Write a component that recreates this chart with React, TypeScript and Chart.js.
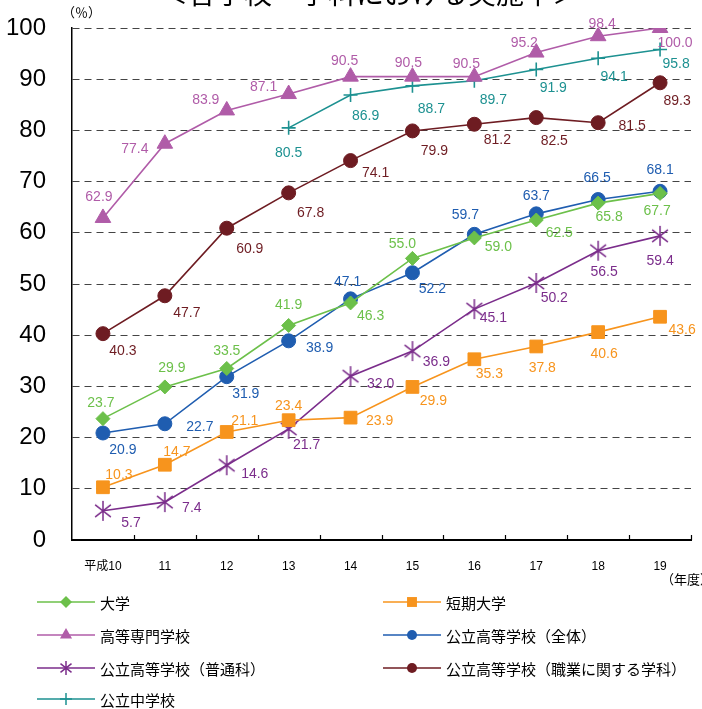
import React, { useEffect, useRef } from 'react';
import { Chart, registerables } from 'chart.js';

Chart.register(...registerables);

// ---------------- data ----------------
const YEARS = ['平成10', '11', '12', '13', '14', '15', '16', '17', '18', '19'];
const Y_MIN = 0;
const Y_MAX = 100;
const Y_STEP = 10;

const DAIGAKU = [23.7, 29.9, 33.5, 41.9, 46.3, 55.0, 59.0, 62.5, 65.8, 67.7];
const TANKI = [10.3, 14.7, 21.1, 23.4, 23.9, 29.9, 35.3, 37.8, 40.6, 43.6];
const KOSEN = [62.9, 77.4, 83.9, 87.1, 90.5, 90.5, 90.5, 95.2, 98.4, 100.0];
const KOKO_ALL = [20.9, 22.7, 31.9, 38.9, 47.1, 52.2, 59.7, 63.7, 66.5, 68.1];
const KOKO_FUTSU = [5.7, 7.4, 14.6, 21.7, 32.0, 36.9, 45.1, 50.2, 56.5, 59.4];
const KOKO_SHOKU = [40.3, 47.7, 60.9, 67.8, 74.1, 79.9, 81.2, 82.5, 81.5, 89.3];
const CHUGAKU = [null, null, null, 80.5, 86.9, 88.7, 89.7, 91.9, 94.1, 95.8];

const TITLE = '＜各学校・学科における実施率＞';
const UNIT_Y = '（％）';
const UNIT_X = '（年度）';

// label offsets (dx, dy) relative to each point
const OFF_DAIGAKU = [[-2, -16], [7, -19], [0, -17], [0, -20], [20, 13], [-10, -14], [24, 9], [23, 13], [11, 14], [-3, 18]];
const OFF_TANKI = [[16, -12], [12, -13], [18, -11], [0, -14], [29, 4], [21, 14], [15, 15], [6, 22], [6, 22], [22, 13]];
const OFF_KOSEN = [[-4, -21], [-30, 5], [-21, -10], [-25, -7], [-6, -15], [-4, -13], [-8, -12], [-12, -9], [4, -12], [15, 15]];
const OFF_KOKO_ALL = [[20, 17], [35, 3], [19, 17], [31, 7], [-3, -17], [20, 16], [-9, -19], [0, -18], [-1, -21], [0, -21]];
const OFF_KOKO_FUTSU = [[28, 12], [27, 6], [28, 9], [18, 16], [30, 8], [24, 11], [19, 9], [18, 15], [6, 21], [0, 25]];
const OFF_KOKO_SHOKU = [[20, 17], [22, 17], [23, 21], [22, 20], [25, 13], [22, 20], [23, 16], [18, 24], [34, 3], [17, 18]];
const OFF_CHUGAKU = [null, null, null, [0, 25], [15, 21], [19, 23], [19, 19], [17, 19], [16, 19], [16, 15]];

// ---------------- styles ----------------
const C_GREEN = '#6cc04a';
const C_ORANGE = '#f7941d';
const C_PINK = '#b05ca8';
const C_BLUE = '#1f5db0';
const C_PURPLE = '#7b2d8b';
const C_DARKRED = '#6e1c22';
const C_TEAL = '#1d9191';

function makeAsterisk(size: number, color: string, lw: number) {
  const c = document.createElement('canvas');
  c.width = size;
  c.height = size;
  const g = c.getContext('2d')!;
  const m = size / 2;
  const r = size / 2 - 1;
  g.strokeStyle = color;
  g.lineWidth = lw;
  g.beginPath();
  g.moveTo(m, m - r);
  g.lineTo(m, m + r);
  const a = (38 * Math.PI) / 180;
  const dx = Math.cos(a) * r;
  const dy = Math.sin(a) * r;
  g.moveTo(m - dx, m - dy);
  g.lineTo(m + dx, m + dy);
  g.moveTo(m - dx, m + dy);
  g.lineTo(m + dx, m - dy);
  g.stroke();
  return c;
}

type Series = {
  name: string;
  data: (number | null)[];
  color: string;
  style: string;
  radius: number;
  offsets: (number[] | null)[];
  legendCol: number;
  legendRow: number;
};

const SERIES: Series[] = [
  { name: '大学', data: DAIGAKU, color: C_GREEN, style: 'rectRot', radius: 7, offsets: OFF_DAIGAKU, legendCol: 0, legendRow: 0 },
  { name: '短期大学', data: TANKI, color: C_ORANGE, style: 'rect', radius: 9, offsets: OFF_TANKI, legendCol: 1, legendRow: 0 },
  { name: '高等専門学校', data: KOSEN, color: C_PINK, style: 'triangle', radius: 9, offsets: OFF_KOSEN, legendCol: 0, legendRow: 1 },
  { name: '公立高等学校（全体）', data: KOKO_ALL, color: C_BLUE, style: 'circle', radius: 7, offsets: OFF_KOKO_ALL, legendCol: 1, legendRow: 1 },
  { name: '公立高等学校（普通科）', data: KOKO_FUTSU, color: C_PURPLE, style: 'asterisk', radius: 10, offsets: OFF_KOKO_FUTSU, legendCol: 0, legendRow: 2 },
  { name: '公立高等学校（職業に関する学科）', data: KOKO_SHOKU, color: C_DARKRED, style: 'circle', radius: 7, offsets: OFF_KOKO_SHOKU, legendCol: 1, legendRow: 2 },
  { name: '公立中学校', data: CHUGAKU, color: C_TEAL, style: 'cross', radius: 7, offsets: OFF_CHUGAKU, legendCol: 0, legendRow: 3 },
];

const LEGEND_COL_X = [37, 383];
const LEGEND_LINE_W = 58;
const LEGEND_ROW_Y = [602, 635, 668, 699];

function drawMarker(ctx: CanvasRenderingContext2D, style: string, x: number, y: number, r: number, color: string) {
  ctx.save();
  ctx.fillStyle = color;
  ctx.strokeStyle = color;
  ctx.lineWidth = 1.5;
  ctx.beginPath();
  if (style === 'circle') {
    ctx.arc(x, y, r, 0, Math.PI * 2);
    ctx.fill();
  } else if (style === 'rectRot') {
    ctx.moveTo(x, y - r);
    ctx.lineTo(x + r, y);
    ctx.lineTo(x, y + r);
    ctx.lineTo(x - r, y);
    ctx.closePath();
    ctx.fill();
  } else if (style === 'rect') {
    const s = r * Math.SQRT1_2;
    ctx.rect(x - s, y - s, 2 * s, 2 * s);
    ctx.fill();
  } else if (style === 'triangle') {
    ctx.moveTo(x, y - r);
    ctx.lineTo(x + r * 0.866, y + r * 0.5);
    ctx.lineTo(x - r * 0.866, y + r * 0.5);
    ctx.closePath();
    ctx.fill();
  } else if (style === 'cross') {
    ctx.moveTo(x, y - r);
    ctx.lineTo(x, y + r);
    ctx.moveTo(x - r, y);
    ctx.lineTo(x + r, y);
    ctx.stroke();
  } else if (style === 'asterisk') {
    ctx.moveTo(x, y - r);
    ctx.lineTo(x, y + r);
    const a = (38 * Math.PI) / 180;
    const dx = Math.cos(a) * r;
    const dy = Math.sin(a) * r;
    ctx.moveTo(x - dx, y - dy);
    ctx.lineTo(x + dx, y + dy);
    ctx.moveTo(x - dx, y + dy);
    ctx.lineTo(x + dx, y - dy);
    ctx.stroke();
  }
  ctx.restore();
}

const decorPlugin = {
  id: 'decor',
  beforeDatasetsDraw(chart: any) {
    const ctx = chart.ctx as CanvasRenderingContext2D;
    const xs = chart.scales.x;
    const area = chart.chartArea;
    const n = YEARS.length;
    const w = (area.right - area.left) / n;
    ctx.save();
    ctx.strokeStyle = '#000';
    ctx.lineWidth = 1.2;
    ctx.beginPath();
    for (let i = 1; i <= n; i++) {
      const x = Math.round(xs.getPixelForValue(i - 1) + w / 2) + 0.5;
      ctx.moveTo(x, area.bottom);
      ctx.lineTo(x, area.bottom - 5);
    }
    ctx.stroke();
    ctx.restore();
  },
  afterDatasetsDraw(chart: any) {
    const ctx = chart.ctx as CanvasRenderingContext2D;
    ctx.save();
    ctx.font = '14px "Liberation Sans", Arial, sans-serif';
    ctx.textAlign = 'center';
    ctx.textBaseline = 'middle';
    SERIES.forEach((s, di) => {
      const meta = chart.getDatasetMeta(di);
      s.data.forEach((v, i) => {
        if (v === null) return;
        const pt = meta.data[i];
        const off = s.offsets[i] || [0, -15];
        ctx.fillStyle = s.color;
        ctx.fillText(v.toFixed(1), pt.x + off[0], pt.y + off[1]);
      });
    });
    ctx.restore();
  },
  afterDraw(chart: any) {
    const ctx = chart.ctx as CanvasRenderingContext2D;
    ctx.save();
    // title (cut off at top)
    ctx.fillStyle = '#000';
    ctx.font = '28px "Noto Sans CJK JP", sans-serif';
    ctx.textAlign = 'center';
    ctx.textBaseline = 'alphabetic';
    ctx.fillText(TITLE, 370, 4);
    // unit labels
    ctx.font = '13px "Noto Sans CJK JP", sans-serif';
    ctx.textAlign = 'left';
    ctx.textBaseline = 'middle';
    ctx.fillText(UNIT_Y, 62, 12);
    ctx.fillText(UNIT_X, 661, 579);
    // legend
    ctx.font = '15px "Noto Sans CJK JP", sans-serif';
    SERIES.forEach((s) => {
      const x0 = LEGEND_COL_X[s.legendCol];
      const y = LEGEND_ROW_Y[s.legendRow];
      ctx.strokeStyle = s.color;
      ctx.lineWidth = 1.6;
      ctx.beginPath();
      ctx.moveTo(x0, y);
      ctx.lineTo(x0 + LEGEND_LINE_W, y);
      ctx.stroke();
      drawMarker(ctx, s.style, x0 + LEGEND_LINE_W / 2, y, s.style === 'circle' ? 5 : s.style === 'rectRot' ? 6 : s.style === 'asterisk' ? 7 : s.style === 'cross' ? 6 : 7, s.color);
      ctx.fillStyle = '#000';
      ctx.fillText(s.name, x0 + LEGEND_LINE_W + 5, y + 1);
    });
    ctx.restore();
  },
};

export default function App() {
  const ref = useRef<HTMLCanvasElement | null>(null);
  useEffect(() => {
    if (!ref.current) return;
    const star = makeAsterisk(22, C_PURPLE, 1.5);
    const chart = new Chart(ref.current, {
      type: 'line',
      data: {
        labels: YEARS,
        datasets: SERIES.map((s) => ({
          label: s.name,
          data: s.data,
          borderColor: s.color,
          backgroundColor: s.color,
          borderWidth: 1.6,
          pointStyle: (s.style === 'asterisk' ? star : s.style) as any,
          pointRadius: s.radius,
          pointBorderWidth: s.style === 'cross' ? 1.6 : 1,
          pointBackgroundColor: s.color,
          pointBorderColor: s.color,
          tension: 0,
          spanGaps: false,
        })),
      },
      options: {
        animation: false,
        responsive: false,
        devicePixelRatio: 1,
        layout: { padding: { top: 28, right: 2, left: 0, bottom: 0 } },
        plugins: { legend: { display: false }, tooltip: { enabled: false }, title: { display: false } },
        scales: {
          x: {
            type: 'category',
            offset: true,
            grid: { display: false, drawTicks: false },
            border: { display: true, color: '#000', width: 2 },
            ticks: {
              color: '#000',
              font: { size: 12, family: '"Liberation Sans", "Noto Sans CJK JP", sans-serif' },
              padding: 19,
              maxRotation: 0,
              autoSkip: false,
            },
            afterFit: (scale: any) => {
              scale.height = 169;
            },
          },
          y: {
            min: Y_MIN,
            max: Y_MAX,
            ticks: {
              stepSize: Y_STEP,
              color: '#000',
              font: { size: 24, family: '"Liberation Sans", Arial, sans-serif' },
              padding: 0,
            },
            grid: {
              drawTicks: true,
              tickLength: 26,
              tickColor: 'rgba(0,0,0,0)',
              color: (c: any) => (c.tick && c.tick.value === 0 ? 'rgba(0,0,0,0)' : '#444'),
              lineWidth: 1,
            },
            border: { display: true, color: '#000', width: 1.5, dash: [7, 5] },
            afterFit: (scale: any) => {
              scale.width = 72;
            },
          },
        },
      },
      plugins: [decorPlugin],
    });
    return () => chart.destroy();
  }, []);
  return (
    <div style={{ position: 'fixed', left: 0, top: 0, width: 702, height: 709, background: '#fff' }}>
      <canvas ref={ref} width={702} height={709} style={{ display: 'block' }} />
    </div>
  );
}
